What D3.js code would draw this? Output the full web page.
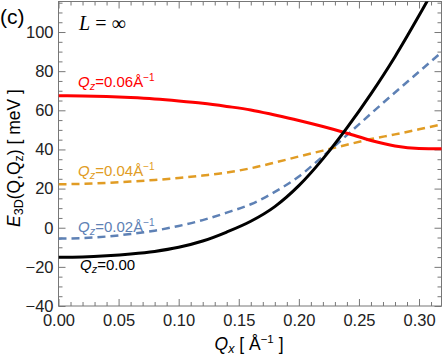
<!DOCTYPE html>
<html>
<head>
<meta charset="utf-8">
<script src="https://cdn.jsdelivr.net/npm/d3@7"></script>
<style>
  body { margin: 0; background: #fff; }
  svg { display: block; font-family: "Liberation Sans", Arial, sans-serif; }
  .tick line { stroke: #777; }
  .lbl text { fill: #222; font-size: 16.5px; }
</style>
</head>
<body>
<svg width="443" height="357"></svg>
<script>
// values
let qx = [0, 0.02, 0.04, 0.06, 0.08, 0.10, 0.12, 0.14, 0.16, 0.18, 0.20, 0.22, 0.24, 0.26, 0.28, 0.30, 0.32]
let qz000 = [-15.1, -14.9, -14.3, -13.4, -12.1, -10.0, -6.8, -2.2, 3.3, 10.8, 21.5, 35.2, 51.0, 68.4, 87.4, 108.4, 130.5]
let qz002 = [-5.6, -5.3, -4.5, -3.2, -1.5, 0.9, 3.9, 7.7, 12.0, 18.3, 26.2, 36.5, 47.3, 58.3, 69.1, 79.7, 90.3]
let qz004 = [22.2, 22.4, 22.9, 23.6, 24.4, 25.4, 26.7, 28.2, 30.4, 33.3, 36.4, 39.4, 42.4, 45.3, 47.7, 50.3, 53.0]
let qz006 = [67.5, 67.3, 67.0, 66.5, 65.8, 64.8, 63.6, 62.0, 60.2, 57.6, 54.8, 51.7, 48.3, 44.6, 41.8, 40.5, 40.3]

let xTicks = [0, 0.05, 0.10, 0.15, 0.20, 0.25, 0.30]
let yTicks = [-40, -20, 0, 20, 40, 60, 80, 100]

let pl = 58.5, pr = 441.5, pt = 1.5, pb = 306

let svg = d3.select('svg')

let x = d3.scaleLinear().domain([0, 0.3187]).range([pl, pr])
let y = d3.scaleLinear().domain([-40, 115.6]).range([pb, pt])

let xMinor = d3.range(0, 0.32, 0.01).filter(v => Math.abs(v * 20 - Math.round(v * 20)) > 1e-6)
let yMinor = d3.range(-40, 116, 5).filter(v => v % 20 !== 0)

// clip
svg.append('clipPath').attr('id', 'clip')
  .append('rect')
  .attr('x', pl).attr('y', pt)
  .attr('width', pr - pl).attr('height', pb - pt)

// axes with inward ticks
let addAxis = (axis, tr, cls) => {
  let g = svg.append('g').attr('transform', tr).attr('class', cls || '').call(axis)
  g.select('.domain').remove()
  return g
}

addAxis(d3.axisBottom(x).tickValues(xTicks).tickSize(-7).tickPadding(8).tickFormat(d3.format('.2f')), 'translate(0,' + pb + ')', 'lbl')
addAxis(d3.axisBottom(x).tickValues(xMinor).tickSize(-4).tickFormat(''), 'translate(0,' + pb + ')')
addAxis(d3.axisTop(x).tickValues(xTicks).tickSize(-7).tickFormat(''), 'translate(0,' + pt + ')')
addAxis(d3.axisTop(x).tickValues(xMinor).tickSize(-4).tickFormat(''), 'translate(0,' + pt + ')')

addAxis(d3.axisLeft(y).tickValues(yTicks).tickSize(-7).tickPadding(5), 'translate(' + pl + ',0)', 'lbl')
addAxis(d3.axisLeft(y).tickValues(yMinor).tickSize(-4).tickFormat(''), 'translate(' + pl + ',0)')
addAxis(d3.axisRight(y).tickValues(yTicks).tickSize(-7).tickFormat(''), 'translate(' + pr + ',0)')
addAxis(d3.axisRight(y).tickValues(yMinor).tickSize(-4).tickFormat(''), 'translate(' + pr + ',0)')

svg.selectAll('.lbl text').attr('font-family', '"Liberation Sans", Arial, sans-serif')

// frame
svg.append('rect')
  .attr('x', pl).attr('y', pt)
  .attr('width', pr - pl).attr('height', pb - pt)
  .attr('fill', 'none').attr('stroke', '#777').attr('stroke-width', 1)

// curves
let series = [
  { vals: qz004, color: '#e19c24', dash: '8,5', w: 2.5 },
  { vals: qz002, color: '#5e81b5', dash: '8,5', w: 2.5 },
  { vals: qz006, color: '#ff0000', dash: null, w: 3 },
  { vals: qz000, color: '#000000', dash: null, w: 3 }
]

let line = d3.line()
  .x(d => x(d[0]))
  .y(d => y(d[1]))
  .curve(d3.curveMonotoneX)

let plot = svg.append('g').attr('clip-path', 'url(#clip)')

series.forEach(s => {
  plot.append('path')
    .datum(qx.map((q, i) => [q, s.vals[i]]))
    .attr('d', line)
    .attr('fill', 'none')
    .attr('stroke', s.color)
    .attr('stroke-width', s.w)
    .attr('stroke-dasharray', s.dash)
})

// curve labels
let qzLabel = (tx, ty, color, val, unit) => {
  let t = svg.append('text')
    .attr('x', tx).attr('y', ty)
    .attr('fill', color)
    .attr('font-size', 15)
  t.append('tspan').attr('font-style', 'italic').text('Q')
  t.append('tspan').attr('font-style', 'italic').attr('font-size', 11).attr('dy', 3).text('z')
  t.append('tspan').attr('dy', -3).text('=' + val + (unit ? 'Å' : ''))
  if (unit) {
    t.append('tspan').attr('font-size', 10).attr('dy', -6).text('−1')
  }
}

qzLabel(78, 87, '#ff0000', '0.06', true)
qzLabel(78, 176, '#e19c24', '0.04', true)
qzLabel(78, 232, '#5e81b5', '0.02', true)
qzLabel(80, 270, '#000000', '0.00', false)

// L = infinity
let lt = svg.append('text')
  .attr('x', 79).attr('y', 30)
  .attr('font-family', '"Liberation Serif", "DejaVu Serif", serif')
  .attr('font-size', 20)
lt.append('tspan').attr('font-style', 'italic').text('L')
lt.append('tspan').text(' = ∞')

// panel tag
svg.append('text')
  .attr('x', 0).attr('y', 24)
  .attr('font-size', 21)
  .text('(c)')

// axis titles
let xt = svg.append('text')
  .attr('x', 249).attr('y', 350)
  .attr('text-anchor', 'middle')
  .attr('font-size', 17.5)
xt.append('tspan').attr('font-style', 'italic').text('Q')
xt.append('tspan').attr('font-style', 'italic').attr('font-size', 12.5).attr('dy', 3).text('x')
xt.append('tspan').attr('dy', -3).text(' [ Å')
xt.append('tspan').attr('font-size', 11.5).attr('dy', -7).text('−1')
xt.append('tspan').attr('dy', 7).text(' ]')

let yt = svg.append('text')
  .attr('transform', 'translate(20,158) rotate(-90)')
  .attr('text-anchor', 'middle')
  .attr('font-size', 17.5)
yt.append('tspan').attr('font-style', 'italic').text('E')
yt.append('tspan').attr('font-size', 12.5).attr('dy', 3).text('3D')
yt.append('tspan').attr('dy', -3).text('(Q,Q')
yt.append('tspan').attr('font-size', 12.5).attr('dy', 3).text('z')
yt.append('tspan').attr('dy', -3).text(') [ meV ]')
</script>
</body>
</html>
